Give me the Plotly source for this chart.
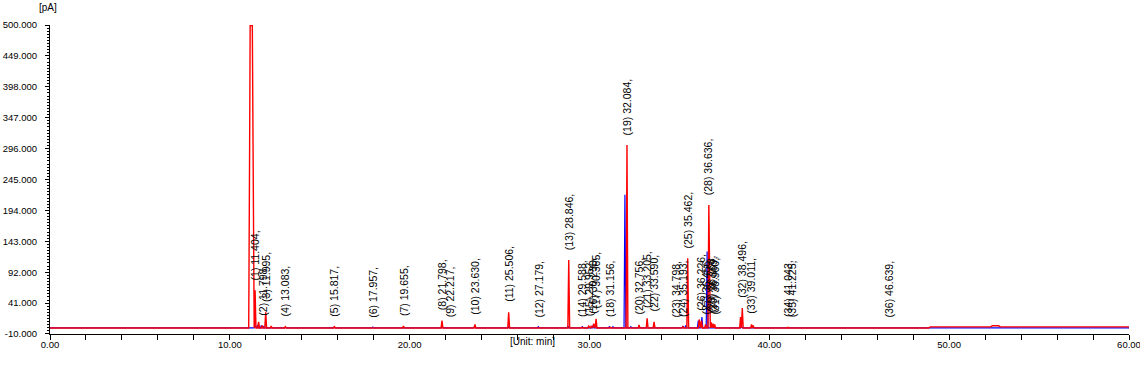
import plotly.graph_objects as go

# ---------------- data ----------------
x_range = [0, 60]
y_range = [-10, 500]
y_tick_values = [-10, 41, 92, 143, 194, 245, 296, 347, 398, 449, 500]
x_tick_values = [0, 10, 20, 30, 40, 50, 60]

# solvent front of the red trace (time in min, signal in pA)
solvent_time = [11.05, 11.10, 11.13, 11.25, 11.28, 11.31, 11.34, 11.37]
solvent_red = [0, 300, 499, 499, 300, 50, 14, 6]

# blue trace start (solvent tail only just visible)
blue_start_time = [11.35, 11.42]
blue_start_val = [0, 3]

# labelled (integrated) peaks: retention time and red signal at apex
peak_rt = [11.404, 11.798, 11.995, 13.083, 15.817, 17.957, 19.655, 21.798,
           22.217, 23.630, 25.506, 27.179, 28.846, 29.588, 29.952, 30.230,
           30.365, 31.156, 32.084, 32.756, 33.205, 33.590, 34.798, 35.193,
           35.462, 36.226, 36.456, 36.636, 36.768, 36.869, 36.960, 38.496,
           39.011, 41.043, 41.225, 46.639]
peak_height = [62, 4, 26, 2, 2, 1, 3, 12,
               1, 6, 26, 1, 112, 1, 3, 7,
               15, 1, 302, 5, 16, 10, 1, 2,
               115, 12, 6, 203, 9, 7, 6, 33,
               6, 1, 1, 1]

# extra small red bumps without a label
red_extra_rt = [11.60, 12.30, 30.09, 36.10, 38.40, 39.10]
red_extra_height = [10, 3, 3, 14, 18, 4]

# late baseline drift of the red trace
drift_time = [48.85, 48.95, 50.80, 50.90, 51.00, 52.30, 52.40, 52.75, 52.85,
              58.20, 58.30, 58.40, 60.00]
drift_red = [0, 1.8, 1.8, 3.0, 1.8, 1.8, 3.5, 3.5, 1.8,
             1.8, 2.7, 1.8, 1.8]

# blue trace peaks (second chromatogram)
blue_rt = [11.55, 11.75, 11.90, 13.10, 15.80, 17.95, 21.80, 23.60, 25.50,
           27.15, 28.80, 29.60, 30.20, 31.10, 31.30, 31.97, 32.30, 35.20,
           35.35, 36.05, 36.25, 36.54, 38.45]
blue_height = [5, 4, 3, 1.5, 1.5, 1.5, 2, 2, 2,
               2, 3, 2, 4, 2, 2, 220, 2, 3,
               4, 12, 18, 126, 3]

# ---------------- build traces ----------------
HALF_WIDTH = 0.05


def build_trace(times, heights, pre_t, pre_v, post_t=None, post_v=None):
    pts = [(0.0, 0.0)]
    pts += list(zip(pre_t, pre_v))
    for t, h in sorted(zip(times, heights)):
        pts += [(t - HALF_WIDTH, 0.0), (t, h), (t + HALF_WIDTH, 0.0)]
    if post_t is not None:
        pts += list(zip(post_t, post_v))
    else:
        pts.append((60.0, 0.0))
    pts.sort(key=lambda p: p[0])
    return [p[0] for p in pts], [p[1] for p in pts]


red_x, red_y = build_trace(peak_rt + red_extra_rt, peak_height + red_extra_height,
                           solvent_time, solvent_red, drift_time, drift_red)
blue_x, blue_y = build_trace(blue_rt, blue_height, blue_start_time, blue_start_val)

fig = go.Figure()
fig.add_trace(go.Scatter(x=blue_x, y=blue_y, mode="lines",
                         line=dict(color="#0000FF", width=1.2),
                         hoverinfo="skip", showlegend=False))
fig.add_trace(go.Scatter(x=red_x, y=red_y, mode="lines",
                         line=dict(color="#FF0000", width=1.4),
                         hoverinfo="skip", showlegend=False))

FONT = "Arial, 'Liberation Sans', sans-serif"

annotations = []
for i, (t, h) in enumerate(zip(peak_rt, peak_height), start=1):
    annotations.append(dict(
        x=t, y=h, xref="x", yref="y", text=f"({i}) {t:.3f},",
        showarrow=False, textangle=-90, xanchor="center", yanchor="bottom",
        yshift=9, font=dict(family=FONT, size=10.5, color="#000000"),
        borderpad=0))

annotations.append(dict(x=-0.002, y=1.058, xref="paper", yref="paper",
                        text="[pA]", showarrow=False, xanchor="center",
                        yanchor="middle",
                        font=dict(family=FONT, size=10, color="#000000")))
annotations.append(dict(x=0.447, y=-0.025, xref="paper", yref="paper",
                        text="[Unit: min]", showarrow=False, xanchor="center",
                        yanchor="middle",
                        font=dict(family=FONT, size=10, color="#000000")))

fig.update_layout(
    width=1140, height=369,
    margin=dict(l=50, r=11, t=25, b=35, autoexpand=False),
    paper_bgcolor="white", plot_bgcolor="white",
    annotations=annotations,
    font=dict(family=FONT, size=10.5, color="#000000"),
)

fig.update_xaxes(
    range=x_range, tickmode="array", tickvals=x_tick_values,
    ticktext=[f"{v:.2f}" for v in x_tick_values],
    ticks="outside", ticklen=5, tickcolor="#000000",
    showline=True, linecolor="#000000", linewidth=1,
    showgrid=False, zeroline=False, automargin=False,
    ticklabeloverflow="allow", ticklabelstandoff=-3,
    tickfont=dict(family=FONT, size=9.5, color="#000000"),
    minor=dict(ticks="outside", ticklen=5, dtick=2, tick0=0, tickcolor="#000000"),
)
fig.update_yaxes(
    range=[y_range[0] - 0.01, y_range[1] + 0.01], tickmode="array",
    tickvals=y_tick_values,
    ticktext=[f"{v:.3f}" for v in y_tick_values],
    ticks="outside", ticklen=4, tickcolor="#000000",
    showline=True, linecolor="#000000", linewidth=1,
    showgrid=False, zeroline=False, automargin=False,
    ticklabeloverflow="allow", ticklabelstandoff=6,
    tickfont=dict(family=FONT, size=9.5, color="#000000"),
    minor=dict(ticks="outside", ticklen=2, dtick=5.1, tick0=-10, tickcolor="#000000"),
)

fig.write_html("out.html",
               config={"displayModeBar": False},
               post_script="document.body.style.margin='0px';"
                           "document.body.style.overflow='hidden';")
